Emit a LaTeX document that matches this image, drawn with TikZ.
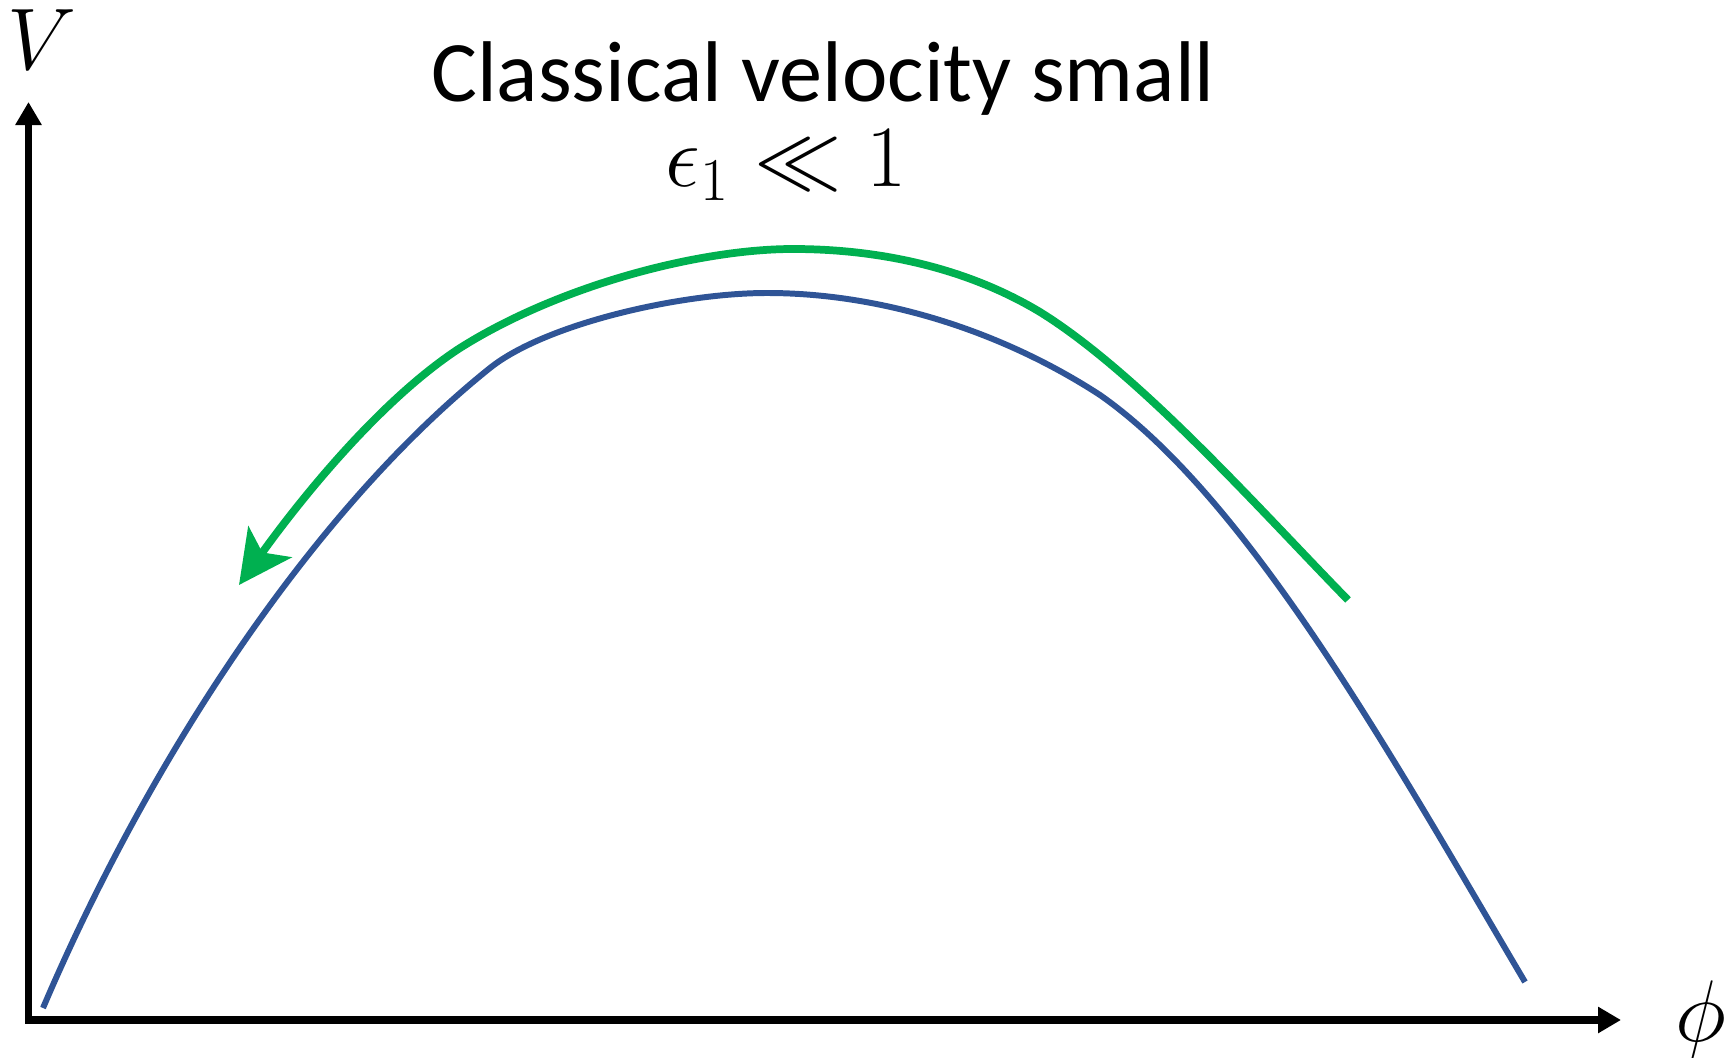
\documentclass[tikz,border=0pt]{standalone}
\usepackage{fontspec}
\usepackage{tikz}
\usetikzlibrary{arrows.meta}
\newfontfamily\titlefont{Carlito}
\definecolor{potblue}{RGB}{47,84,150}
\definecolor{flowgreen}{RGB}{0,176,80}
\tikzset{
  axis/.style      = {draw=black, line width=2pt, -{Triangle[length=0.23cm, width=0.25cm]}},
  potential/.style = {draw=potblue, line width=1.7pt},
  flow/.style      = {draw=flowgreen, line width=2.2pt, -{Stealth[length=0.53cm, width=0.53cm, inset=0.13cm]}},
  axlbl/.style     = {font=\fontsize{23}{28}\selectfont, inner sep=0pt},
  headline/.style  = {font=\titlefont\fontsize{24.5}{30}\selectfont, inner sep=0pt, anchor=base, text depth=0pt},
  mathlbl/.style   = {font=\fontsize{23.5}{28}\selectfont, inner sep=0pt, anchor=base},
}

\begin{document}
\begin{tikzpicture}[x=0.01cm,y=-0.01cm]
  \path[use as bounding box] (0,0) rectangle (1724,1058);

  % ---------- axes ----------
  \coordinate (ybase) at (28.5,1023);
  \coordinate (ytip)  at (28.5,102);
  \coordinate (xbase) at (25,1020);
  \coordinate (xtip)  at (1621,1020);
  \draw[axis] (ybase) -- (ytip);
  \draw[axis] (xbase) -- (xtip);
  \node[axlbl] (vlabel)   at (42,40)     {$V$};
  \node[axlbl] (philabel) at (1701,1020) {$\phi$};

  % ---------- texts ----------
  \node[headline] (title)    at (823,102) {Classical velocity small};
  \node[mathlbl]  (slowroll) at (786,187) {$\epsilon_1 \ll 1$};

  % ---------- potential ----------
  \coordinate (vleft)  at (43,1008);
  \coordinate (vknee)  at (490,368);
  \coordinate (vtop)   at (767,293);
  \coordinate (vbend)  at (1100,395);
  \coordinate (vright) at (1525,982);
  \draw[potential] (vleft) .. controls (147,764) and (310,512) .. (vknee)
    .. controls (545,324) and (680,293) .. (vtop)
    .. controls (880,293) and (1000,330) .. (vbend)
    .. controls (1250,500) and (1395,762) .. (vright);

  % ---------- rolling arrow ----------
  \coordinate (fstart) at (1348,600);
  \coordinate (fbend)  at (1040,312);
  \coordinate (ftop)   at (793,249);
  \coordinate (fknee)  at (460,348);
  \coordinate (fend)   at (239,585);
  \draw[flow] (fstart) .. controls (1260,510) and (1140,374) .. (fbend)
    .. controls (960,264) and (870,249) .. (ftop)
    .. controls (700,249) and (560,285) .. (fknee)
    .. controls (380,400) and (300,500) .. (fend);
\end{tikzpicture}
\end{document}
